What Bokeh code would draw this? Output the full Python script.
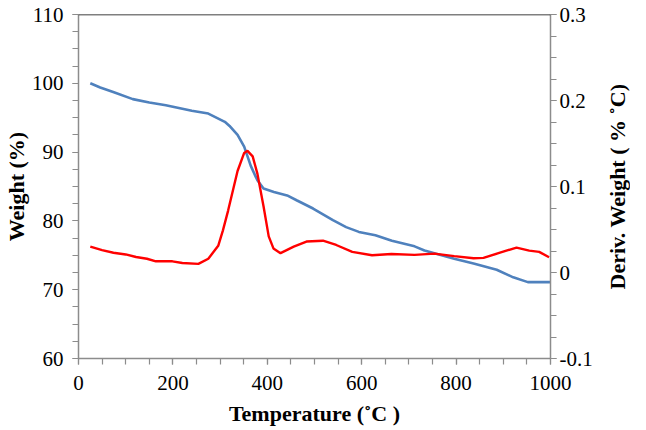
import math
from bokeh.plotting import figure
from bokeh.layouts import row
from bokeh.models import (Range1d, LinearAxis, SingleIntervalTicker, FixedTicker,
                          CustomJSTickFormatter, Span)
from bokeh.core.properties import value
from bokeh.embed import file_html
from bokeh.resources import INLINE

# Weight (%) vs temperature
temp_w = [25, 46, 75, 115, 150, 185, 220, 240, 275, 310, 320, 337, 351, 365, 379, 392,
          414, 442, 462, 497, 539, 567, 594, 629, 664, 712, 733, 754, 796, 837, 886,
          921, 952, 1000]
weight = [100.0, 99.4, 98.7, 97.7, 97.2, 96.8, 96.3, 96.0, 95.6, 94.4, 93.8, 92.5,
          90.8, 88.0, 85.9, 84.7, 84.2, 83.7, 83.0, 81.8, 80.1, 79.1, 78.4, 77.9,
          77.1, 76.3, 75.7, 75.3, 74.5, 73.8, 72.9, 71.8, 71.1, 71.1]

# Derivative weight (% / C) vs temperature
temp_d = [25, 50, 74, 100, 122, 145, 164, 199, 220, 254, 275, 296, 306, 317, 337, 351,
          358, 369, 379, 392, 403, 413, 428, 456, 483, 518, 546, 580, 622, 663, 712,
          754, 796, 837, 858, 893, 928, 955, 976, 997]
deriv = [0.030, 0.026, 0.023, 0.021, 0.018, 0.016, 0.013, 0.013, 0.011, 0.010, 0.016,
         0.031, 0.049, 0.072, 0.118, 0.139, 0.1415, 0.135, 0.115, 0.077, 0.042, 0.028,
         0.0225, 0.030, 0.036, 0.037, 0.032, 0.024, 0.020, 0.0215, 0.0205, 0.022, 0.019,
         0.0165, 0.017, 0.023, 0.029, 0.0255, 0.024, 0.0177]

# Axis ranges and right-axis ticks
x_lo, x_hi = 0, 1000
w_lo, w_hi = 60, 110
d_lo, d_hi = -0.1, 0.3
deriv_ticks = [-0.1, 0.0, 0.1, 0.2, 0.3]
deriv_minor = [round(-0.1 + 0.025 * i, 3) for i in range(17)]
right_title = "Deriv. Weight ( % ˚C)"

FONT = "Liberation Serif"
AX = "#8C8C8C"

p = figure(width=603, height=430, output_backend="svg", toolbar_location=None,
           x_range=Range1d(x_lo, x_hi), y_range=Range1d(w_lo, w_hi),
           min_border_left=70, min_border_right=53, min_border_top=14, min_border_bottom=72)
p.extra_y_ranges = {"d": Range1d(d_lo, d_hi)}
p.xgrid.visible = False
p.ygrid.visible = False
p.outline_line_color = None
p.background_fill_color = "white"

p.line(temp_w, weight, line_color="#4F81BD", line_width=2.6)
p.line(temp_d, deriv, line_color="#FF0000", line_width=2.4, y_range_name="d")

p.add_layout(Span(location=w_hi, dimension="width", line_color="black", line_width=1.5))

right = LinearAxis(y_range_name="d")
p.add_layout(right, "right")

p.xaxis.ticker = SingleIntervalTicker(interval=200, num_minor_ticks=4)
p.yaxis[0].ticker = SingleIntervalTicker(interval=10, num_minor_ticks=4)
right.ticker = FixedTicker(ticks=deriv_ticks, minor_ticks=deriv_minor)
right.formatter = CustomJSTickFormatter(code="return (Math.round(tick*10)/10).toString();")

p.xaxis.axis_label = "Temperature (˚C )"
p.yaxis[0].axis_label = "Weight (%)"

for ax in [p.xaxis[0], p.yaxis[0], right]:
    ax.axis_line_color = AX
    ax.axis_line_width = 1.5
    ax.major_tick_line_color = AX
    ax.minor_tick_line_color = AX
    ax.major_tick_line_width = 1.2
    ax.minor_tick_line_width = 1.2
    ax.major_tick_in = 0
    ax.major_tick_out = 6
    ax.minor_tick_in = 0
    ax.minor_tick_out = 6
    ax.major_label_text_font = FONT
    ax.major_label_text_font_size = "21px"
    ax.major_label_text_color = "black"
    ax.axis_label_text_font = FONT
    ax.axis_label_text_font_size = "22px"
    ax.axis_label_text_font_style = "bold"
    ax.axis_label_text_color = "black"

p.xaxis.major_label_standoff = 11
p.xaxis.axis_label_standoff = 8
p.yaxis[0].major_label_standoff = 9
p.yaxis[0].axis_label_standoff = 0
right.major_label_standoff = 3

# Narrow strip holding the right-hand axis title, reading bottom to top
t = figure(width=27, height=430, output_backend="svg", toolbar_location=None,
           x_range=Range1d(0, 1), y_range=p.y_range,
           min_border_left=0, min_border_right=0, min_border_top=14, min_border_bottom=72)
t.axis.visible = False
t.xgrid.visible = False
t.ygrid.visible = False
t.outline_line_color = None
t.text(x=[0.5], y=[(w_lo + w_hi) / 2], text=[right_title], angle=math.pi / 2,
       text_align="center", text_baseline="middle",
       text_font=value(FONT), text_font_size="22px", text_font_style="bold",
       text_color="black")

layout = row(p, t)
open("out.html", "w").write(file_html(layout, INLINE))
